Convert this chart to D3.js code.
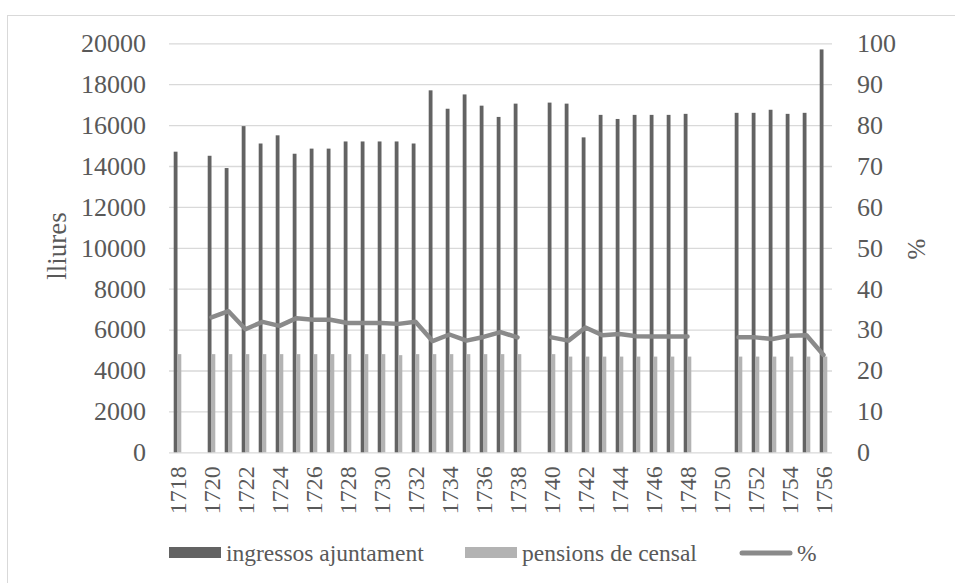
<!DOCTYPE html>
<meta charset="utf-8">
<style>
body { margin: 0; background: #fff; }
text { font-family: "Liberation Serif", "Times New Roman", serif; fill: #595959; }
.grid line { stroke: #d9d9d9; stroke-width: 1.3px; }
.grid path { stroke-width: 0; }
.axis path, .axis line { display: none; }
.axis text { font-size: 26px; fill: #595959; font-family: "Liberation Serif", serif; }
.xaxis text { font-size: 24px; }
</style>
<body>
<script src="https://d3js.org/d3.v7.min.js"></script>
<script>

// data
var years = [1718, 1719, 1720, 1721, 1722, 1723, 1724, 1725, 1726, 1727,
             1728, 1729, 1730, 1731, 1732, 1733, 1734, 1735, 1736, 1737,
             1738, 1739, 1740, 1741, 1742, 1743, 1744, 1745, 1746, 1747,
             1748, 1749, 1750, 1751, 1752, 1753, 1754, 1755, 1756];

var ingressos = [14700, null, 14500, 13900, 15950, 15100, 15500, 14600, 14850, 14850,
                 15200, 15200, 15200, 15200, 15100, 17700, 16800, 17500, 16950, 16400,
                 17050, null, 17100, 17050, 15400, 16500, 16300, 16500, 16500, 16500,
                 16550, null, null, 16600, 16600, 16750, 16550, 16600, 19700];

var pensions = [4800, null, 4800, 4800, 4800, 4800, 4800, 4800, 4800, 4800,
                4800, 4800, 4800, 4750, 4800, 4800, 4800, 4800, 4800, 4800,
                4800, null, 4800, 4680, 4680, 4680, 4680, 4680, 4680, 4680,
                4680, null, null, 4680, 4680, 4680, 4680, 4680, 4680];

var percent = [null, null, 33.0, 34.5, 30.1, 31.9, 30.9, 32.8, 32.4, 32.4,
               31.6, 31.6, 31.6, 31.4, 31.9, 27.2, 28.8, 27.3, 28.2, 29.4,
               28.1, null, 28.1, 27.3, 30.5, 28.6, 28.9, 28.4, 28.3, 28.3,
               28.3, null, null, 28.1, 28.1, 27.7, 28.5, 28.6, 23.8];

var leftTicks = [0, 2000, 4000, 6000, 8000, 10000, 12000, 14000, 16000, 18000, 20000];
var rightTicks = [0, 10, 20, 30, 40, 50, 60, 70, 80, 90, 100];
var yearLabels = years.filter(function(d) { return d % 2 === 0; });

var series = ["ingressos ajuntament", "pensions de censal", "%"];
var colors = ["#636363", "#b3b3b3", "#8a8a8a"];

var W = 955, H = 583;
var plot = {left: 169, right: 832, top: 43.3, bottom: 452.3};
var barW = 3.8;
var serif = "Liberation Serif, Times New Roman, serif";

var svg = d3.select("body").append("svg")
    .attr("width", W)
    .attr("height", H);

// chart frame
svg.append("rect")
    .attr("x", 7.5).attr("y", 15.5)
    .attr("width", 960).attr("height", 580)
    .attr("fill", "none")
    .attr("stroke", "#d9d9d9");

var x = d3.scaleBand().domain(years).range([plot.left, plot.right]).padding(0);
var y = d3.scaleLinear().domain([0, 20000]).range([plot.bottom, plot.top]);
var y2 = d3.scaleLinear().domain([0, 100]).range([plot.bottom, plot.top]);
var cx = function(d) { return x(d) + x.bandwidth() / 2; };

// gridlines
svg.append("g")
    .attr("class", "grid")
    .attr("transform", "translate(" + plot.left + ",0)")
    .call(d3.axisLeft(y).tickValues(leftTicks).tickSize(-(plot.right - plot.left)).tickFormat(""));

// bars
var rows = years.map(function(d, i) {
  return {year: d, ing: ingressos[i], pen: pensions[i], pct: percent[i]};
});

svg.append("g").selectAll("rect")
    .data(rows.filter(function(d) { return d.ing != null; }))
    .enter().append("rect")
    .attr("x", function(d) { return cx(d.year) - barW; })
    .attr("width", barW)
    .attr("y", function(d) { return y(d.ing); })
    .attr("height", function(d) { return y(0) - y(d.ing); })
    .attr("fill", colors[0]);

svg.append("g").selectAll("rect")
    .data(rows.filter(function(d) { return d.pen != null; }))
    .enter().append("rect")
    .attr("x", function(d) { return cx(d.year); })
    .attr("width", barW)
    .attr("y", function(d) { return y(d.pen); })
    .attr("height", function(d) { return y(0) - y(d.pen); })
    .attr("fill", colors[1]);

// percent line
var line = d3.line()
    .defined(function(d) { return d.pct != null; })
    .x(function(d) { return cx(d.year); })
    .y(function(d) { return y2(d.pct); });

svg.append("path")
    .datum(rows)
    .attr("d", line)
    .attr("fill", "none")
    .attr("stroke", colors[2])
    .attr("stroke-width", 4.5)
    .attr("stroke-linejoin", "round")
    .attr("stroke-linecap", "round");

// axes
svg.append("g")
    .attr("class", "axis")
    .attr("font-family", serif)
    .attr("transform", "translate(" + (plot.left - 23) + ",0)")
    .call(d3.axisLeft(y).tickValues(leftTicks).tickSize(0).tickPadding(0).tickFormat(d3.format("d")));

svg.append("g")
    .attr("class", "axis")
    .attr("font-family", serif)
    .attr("transform", "translate(" + (plot.right + 25) + ",0)")
    .call(d3.axisRight(y2).tickValues(rightTicks).tickSize(0).tickPadding(0));

svg.append("g")
    .attr("class", "axis xaxis")
    .attr("font-family", serif)
    .attr("transform", "translate(0," + (plot.bottom + 14) + ")")
    .call(d3.axisBottom(x).tickValues(yearLabels).tickSize(0).tickPadding(0))
  .selectAll("text")
    .attr("transform", "rotate(-90)")
    .attr("x", 0)
    .attr("y", 0)
    .attr("dy", "0.35em")
    .style("text-anchor", "end");

// axis titles
svg.append("text")
    .attr("transform", "translate(66,246) rotate(-90)")
    .attr("text-anchor", "middle")
    .style("font-size", "27px")
    .text("lliures");

svg.append("text")
    .attr("transform", "translate(925,249) rotate(-90)")
    .attr("text-anchor", "middle")
    .style("font-size", "25px")
    .text("%");

// legend
var legend = svg.append("g");
var lx = [169, 465, 740];

legend.append("rect").attr("x", lx[0]).attr("y", 547).attr("width", 52).attr("height", 11).attr("fill", colors[0]);
legend.append("rect").attr("x", lx[1]).attr("y", 547).attr("width", 52).attr("height", 11).attr("fill", colors[1]);
legend.append("line").attr("x1", lx[2] + 2).attr("x2", lx[2] + 50).attr("y1", 553).attr("y2", 553)
    .attr("stroke", colors[2]).attr("stroke-width", 5).attr("stroke-linecap", "round");

legend.selectAll("text")
    .data(series)
    .enter().append("text")
    .attr("x", function(d, i) { return lx[i] + 57; })
    .attr("y", 561)
    .style("font-size", "23.5px")
    .text(function(d) { return d; });

</script>
</body>
